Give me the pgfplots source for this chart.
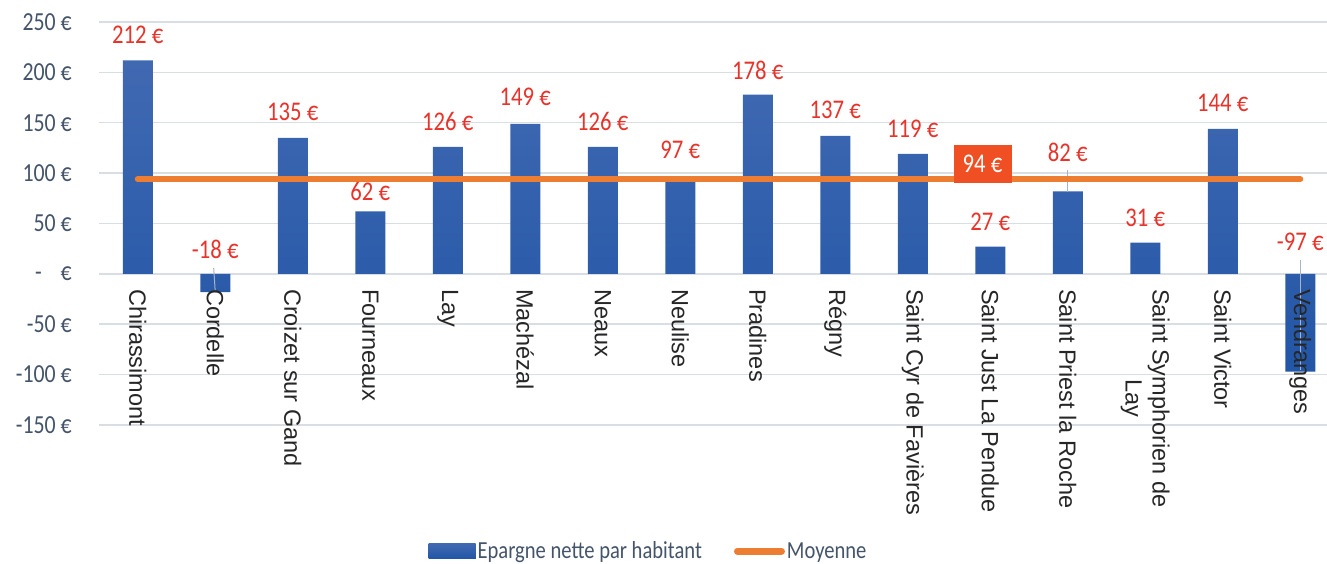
\documentclass[border=0pt]{standalone}
\usepackage{pgfplots}
\pgfplotsset{compat=1.18}
\usepackage{pgfplotstable}
\usepackage{fontspec}
\setmainfont{Carlito}
\newfontfamily\condf[FakeStretch=0.84]{Carlito}
\newfontfamily\arialf{Liberation Sans}

\definecolor{barTop}{HTML}{4169B2}
\definecolor{barBot}{HTML}{2256A6}
\definecolor{moy}{HTML}{ED7D31}
\definecolor{lab}{HTML}{E8332A}
\definecolor{tick}{HTML}{44546A}
\definecolor{gridc}{HTML}{D9DEE5}
\definecolor{boxc}{HTML}{F04E23}
\definecolor{lead}{HTML}{A6B4C6}

\protected\def\ssl{Saint Symphorien de\\Lay}

% x = category index, val = epargne, ly = height of the data label
\pgfplotstableread{
x val ly
0 212 237
1 -18 24
2 135 161
3 62 82
4 126 151
5 149 176
6 126 151
7 97 123
8 178 202
9 137 163
10 119 144
11 27 52
12 82 121
13 31 56
14 144 170
15 -97 32
}\epargne

% category names, written at y = 0 above the bars
\pgfplotstableread[col sep=comma]{
x,y,name
0,0,Chirassimont
1,0,Cordelle
2,0,Croizet sur Gand
3,0,Fourneaux
4,0,Lay
5,0,Machézal
6,0,Neaux
7,0,Neulise
8,0,Pradines
9,0,Régny
10,0,Saint Cyr de Favières
11,0,Saint Just La Pendue
12,0,Saint Priest la Roche
13,0,\ssl
14,0,Saint Victor
15,0,Vendranges
}\noms

\begin{document}
\begin{tikzpicture}
\begin{axis}[
    at={(99bp,139bp)}, anchor=south west,
    scale only axis,
    width=1228bp, height=403bp,
    xmin=-0.5, xmax=15.345,
    ymin=-150, ymax=250,
    clip=false,
    axis line style={draw=none},
    major tick length=0pt,
    ymajorgrids,
    grid style={gridc, line width=1.5bp},
    ytick={-150,-100,...,250},
    yticklabels={-150 €,-100 €,-50 €,{-\hspace{19bp}€},50 €,100 €,150 €,200 €,250 €},
    yticklabel style={font=\condf\fontsize{26bp}{30bp}\selectfont, text=tick, inner sep=0pt, xshift=-27bp},
    xtick=\empty,
    legend style={at={(axis description cs:0.4475,-0.3127)}, anchor=center, draw=none, fill=none,
        font=\condf\fontsize{24.5bp}{28bp}\selectfont, text=tick, legend columns=2,
        /tikz/every even column/.append style={column sep=30bp},
        inner sep=0pt},
    legend cell align=left,
]
\addplot[ybar, bar width=30bp, draw=none, top color=barTop, bottom color=barBot,
    legend image code/.code={\fill[barBot] (0bp,-7.5bp) rectangle (47bp,7.5bp);}]
    table[x=x, y=val] {\epargne};
\addlegendentry{Epargne nette par habitant}

% leader lines
\addplot[lead, line width=1bp, forget plot] coordinates {(0.98,6) (1.0,-18)};
\addplot[lead, line width=1bp, forget plot] coordinates {(12,103) (12,81)};
\addplot[lead, line width=1bp, forget plot] coordinates {(15,14) (15,-95)};

\addplot[moy, line width=6bp, line cap=round,
    legend image code/.code={\draw[moy, line width=7bp, line cap=round] (3bp,0bp) -- (47bp,0bp);}]
    coordinates {(0,94) (15,94)};
\addlegendentry{Moyenne}

% category labels
\addplot[draw=none, forget plot, point meta=explicit symbolic,
    nodes near coords={\pgfplotspointmeta},
    every node near coord/.style={rotate=-90, anchor=west, align=center, inner xsep=15bp, inner ysep=0pt,
        text=black!85, font=\arialf\fontsize{23.5bp}{27bp}\selectfont}]
    table[x=x, y=y, meta=name] {\noms};

% data labels
\addplot[draw=none, forget plot, point meta=explicit symbolic,
    nodes near coords={\pgfplotspointmeta\ €},
    every node near coord/.style={anchor=center, inner sep=0pt, text=lab, font=\condf\fontsize{27bp}{31bp}\selectfont}]
    table[x=x, y=ly, meta=val] {\epargne};

\addplot[draw=none, forget plot,
    nodes near coords={94 €},
    every node near coord/.style={anchor=center, fill=boxc, text=white, minimum width=58bp, minimum height=38bp, inner sep=0pt, font=\condf\fontsize{27bp}{31bp}\selectfont}]
    coordinates {(10.9,109)};
\end{axis}
\pgfresetboundingbox
\useasboundingbox (0,0) rectangle (1327bp,564bp);
\end{tikzpicture}
\end{document}
